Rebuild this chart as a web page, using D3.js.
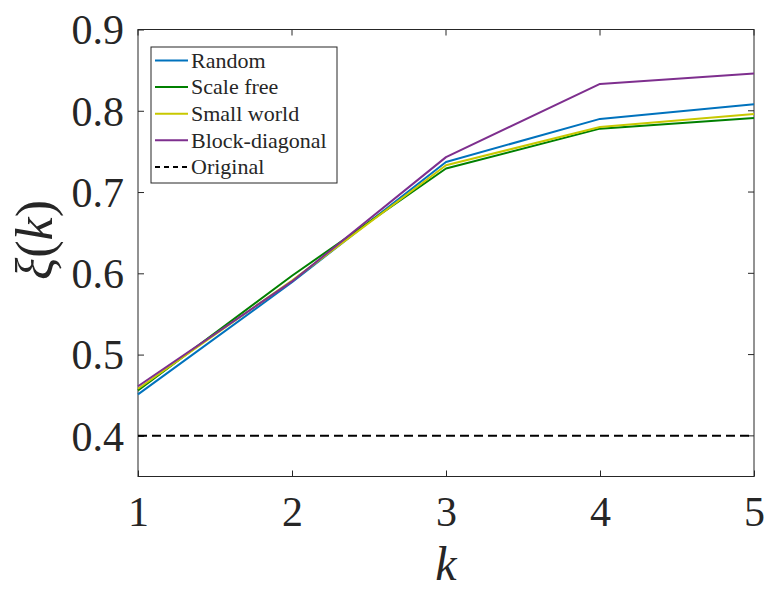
<!DOCTYPE html>
<html>
<head>
<meta charset="utf-8">
<script src="https://cdn.jsdelivr.net/npm/d3@7"></script>
<style>
  html, body { margin: 0; padding: 0; background: #fff; }
  svg { display: block; }
  text { font-family: "Liberation Serif", "DejaVu Serif", serif; fill: #262626; }
</style>
</head>
<body>
<svg id="chart" width="769" height="591"></svg>
<script>
// Walk lengths k and the mean score xi(k) for each rewired network type
const kValues = [1, 2, 3, 4, 5];
const randomVals = [0.451, 0.589, 0.737, 0.790, 0.808];
const scaleFreeVals = [0.456, 0.597, 0.729, 0.778, 0.791];
const smallWorldVals = [0.458, 0.591, 0.733, 0.780, 0.796];
const blockDiagVals = [0.461, 0.590, 0.743, 0.833, 0.846];
const originalVal = 0.4;

const seriesNames = ["Random", "Scale free", "Small world", "Block-diagonal"];
const seriesColors = ["#0072BD", "#008000", "#C8C800", "#7E2F8E"];
const seriesValues = [randomVals, scaleFreeVals, smallWorldVals, blockDiagVals];

const xTicks = [1, 2, 3, 4, 5];
const yTicks = [0.4, 0.5, 0.6, 0.7, 0.8, 0.9];

const svg = d3.select("#chart");
const plotL = 138, plotR = 754, plotT = 29.5, plotB = 476.5;

const x = d3.scaleLinear().domain([1, 5]).range([plotL, plotR]);
const y = d3.scaleLinear().domain([0.35, 0.9]).range([plotB, plotT]);

const axisColor = "#262626";
const tickLen = 6;

// Plot box
svg.append("rect")
  .attr("x", plotL).attr("y", plotT)
  .attr("width", plotR - plotL).attr("height", plotB - plotT)
  .attr("fill", "none").attr("stroke", axisColor).attr("stroke-width", 1);

// Bottom and left axes with inward ticks
const xAxis = d3.axisBottom(x).tickValues(xTicks).tickSize(-tickLen).tickPadding(20)
  .tickFormat(d3.format("d"));
const gx = svg.append("g").attr("transform", `translate(0,${plotB})`).call(xAxis);
gx.select(".domain").remove();
gx.selectAll("line").attr("stroke", axisColor);
gx.selectAll("text").style("font-size", "42px").attr("fill", axisColor);

const yAxis = d3.axisLeft(y).tickValues(yTicks).tickSize(-tickLen).tickPadding(14)
  .tickFormat(d3.format(".1f"));
const gy = svg.append("g").attr("transform", `translate(${plotL},0)`).call(yAxis);
gy.select(".domain").remove();
gy.selectAll("line").attr("stroke", axisColor);
gy.selectAll("text").style("font-size", "42px").attr("fill", axisColor).attr("dy", "0.34em");

// Mirrored ticks on top and right edges
svg.append("g").selectAll("line").data(xTicks).join("line")
  .attr("x1", d => x(d)).attr("x2", d => x(d))
  .attr("y1", plotT).attr("y2", plotT + tickLen)
  .attr("stroke", axisColor);
svg.append("g").selectAll("line").data(yTicks).join("line")
  .attr("x1", plotR).attr("x2", plotR - tickLen)
  .attr("y1", d => y(d)).attr("y2", d => y(d))
  .attr("stroke", axisColor);

// Baseline of the original network
svg.append("line")
  .attr("x1", x(1)).attr("x2", x(5))
  .attr("y1", y(originalVal)).attr("y2", y(originalVal))
  .attr("stroke", "#000").attr("stroke-width", 2)
  .attr("stroke-dasharray", "9,5");

// Series lines
const line = d3.line().x((d, i) => x(kValues[i])).y(d => y(d));
seriesValues.forEach((vals, i) => {
  svg.append("path")
    .datum(vals)
    .attr("d", line)
    .attr("fill", "none")
    .attr("stroke", seriesColors[i])
    .attr("stroke-width", 2)
    .attr("stroke-linejoin", "round");
});

// Legend
const lg = svg.append("g");
const lgX = 151, lgY = 47, lgW = 186, lgH = 136;
lg.append("rect").attr("x", lgX).attr("y", lgY).attr("width", lgW).attr("height", lgH)
  .attr("fill", "#fff").attr("stroke", axisColor).attr("stroke-width", 1);
const legendItems = seriesNames.map((n, i) => ({ name: n, color: seriesColors[i], dash: null }))
  .concat([{ name: "Original", color: "#000", dash: "5,4" }]);
const rowH = 26.6;
legendItems.forEach((it, i) => {
  const cy = lgY + 13.5 + i * rowH;
  lg.append("line")
    .attr("x1", lgX + 4).attr("x2", lgX + 37)
    .attr("y1", cy).attr("y2", cy)
    .attr("stroke", it.color).attr("stroke-width", 2)
    .attr("stroke-dasharray", it.dash);
  lg.append("text")
    .attr("x", lgX + 40).attr("y", cy).attr("dy", "0.33em")
    .style("font-size", "22px").attr("fill", "#000")
    .attr("textLength", null)
    .text(it.name);
});

// Axis titles
svg.append("text")
  .attr("x", 446).attr("y", 580)
  .attr("text-anchor", "middle")
  .style("font-size", "48px").style("font-style", "italic")
  .text("k");
svg.append("text")
  .attr("transform", `translate(52,240) rotate(-90)`)
  .attr("text-anchor", "middle")
  .style("font-size", "52px")
  .html('<tspan font-style="italic">ξ</tspan>(<tspan font-style="italic">k</tspan>)');
</script>
</body>
</html>
